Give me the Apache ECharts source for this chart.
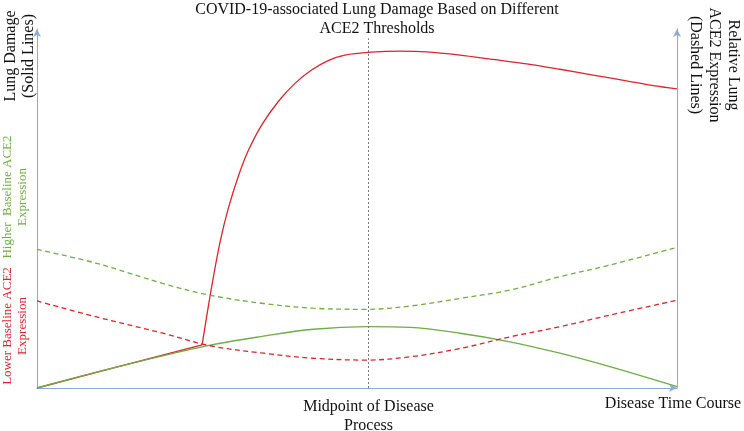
<!DOCTYPE html>
<html><head><meta charset="utf-8">
<script src="https://cdn.jsdelivr.net/npm/echarts@6/dist/echarts.min.js"></script>
<style>html,body{margin:0;padding:0;background:#fff}#c{width:744px;height:431px}</style>
</head><body><div id="c"></div>
<script>
// Time course (0-100) vs. relative level (0-100)
const midpoint = 51.8;
const midpointLineTop = 96.4;
// Lower baseline ACE2: damage follows the common path, then jumps after the threshold
const lowerDamageEarly = [[0,0],[13,6],[25.8,11.9]];
const lowerDamageLate = [[25.8,11.9],[27.2,27.0],[28.6,40.2],[29.9,49.6],[31.5,58.6],[33.0,65.4],[35.1,72.5],[37.7,79.0],[40.3,84.0],[42.9,87.7],[45.5,90.3],[48.1,91.8],[52.2,92.6],[56.7,92.9],[60.9,92.7],[66.1,91.8],[71.3,90.6],[76.5,89.4],[81.7,87.9],[86.9,86.3],[92.1,84.7],[96.3,83.4],[100,82.5]];
const higherDamage = [[0,0],[13,6],[26.5,11.6],[35.4,14.3],[43.2,16.2],[51.5,16.9],[58.3,16.7],[66.1,15.1],[73.9,12.75],[81.7,9.6],[89.5,5.9],[100,0.4]];
const higherACE2 = [[0,38.2],[9.3,34.4],[19.7,28.8],[27,25.6],[35.4,23.3],[43.2,22.0],[51.5,21.7],[58.3,22.6],[66.1,24.7],[73.9,27.0],[81.7,30.7],[89.5,33.9],[100,38.8]];
const lowerACE2 = [[0,24.0],[9.3,19.6],[19.7,15.1],[27,11.65],[35.4,9.6],[43.2,8.2],[51.5,7.7],[58.3,8.6],[66.1,10.9],[73.9,14.1],[81.7,16.9],[89.5,20.1],[100,24.2]];
const titleText = 'COVID-19-associated Lung Damage Based on Different\nACE2 Thresholds';
const midpointLabel = 'Midpoint of Disease\nProcess';
const xName = 'Disease Time Course';
const leftName = 'Lung Damage\n(Solid Lines)';
const rightName = 'Relative Lung\nACE2 Expression\n(Dashed Lines)';
const higherName = 'Higher  Baseline ACE2\nExpression';
const lowerName = 'Lower Baseline ACE2\nExpression';

const RED = '#D9262B', GREEN = '#70AD47', AXIS = '#8EAADB', FONT = 'Liberation Serif';
const chart = echarts.init(document.getElementById('c'));
const axisLine = {show:true, symbol:['none','arrow'], symbolSize:[6,8], lineStyle:{color:AXIS, width:1}};
chart.setOption({
  animation:false,
  grid:{left:37, right:67, top:29, bottom:43},
  xAxis:{type:'value', min:0, max:100, axisLine:axisLine, axisTick:{show:false}, axisLabel:{show:false}, splitLine:{show:false}},
  yAxis:[
    {type:'value', min:0, max:99, axisLine:axisLine, axisTick:{show:false}, axisLabel:{show:false}, splitLine:{show:false}},
    {type:'value', min:0, max:99, position:'right', axisLine:axisLine, axisTick:{show:false}, axisLabel:{show:false}, splitLine:{show:false}}
  ],
  series:[
    {type:'line', data:lowerDamageEarly, smooth:false, symbol:'none', lineStyle:{color:RED, width:1.3},
      markLine:{silent:true, symbol:'none', lineStyle:{color:'#777', type:[2,2], width:1},
        label:{show:true, position:'start', formatter:midpointLabel, fontFamily:FONT, fontSize:16, color:'#111', lineHeight:19, distance:9},
        data:[[{coord:[midpoint,0]},{coord:[midpoint,midpointLineTop]}]]}},
    {type:'line', data:lowerDamageLate, smooth:0.3, symbol:'none', lineStyle:{color:RED, width:1.3}},
    {type:'line', data:higherDamage, smooth:0.35, symbol:'none', lineStyle:{color:GREEN, width:1.3}},
    {type:'line', data:higherACE2, smooth:0.35, symbol:'none', lineStyle:{color:GREEN, width:1.3, type:[5,3.5]}},
    {type:'line', data:lowerACE2, smooth:0.35, symbol:'none', lineStyle:{color:RED, width:1.3, type:[5,3.5]}}
  ],
  graphic:[
    {type:'text', x:377, y:0, style:{text:titleText, font:'16px '+FONT, fill:'#111', align:'center', verticalAlign:'top', lineHeight:19}},
    {type:'text', x:20, y:56, rotation:Math.PI/2, style:{text:leftName, font:'16px '+FONT, fill:'#111', align:'center', verticalAlign:'middle', lineHeight:18}},
    {type:'text', x:714, y:65, rotation:-Math.PI/2, style:{text:rightName, font:'16px '+FONT, fill:'#111', align:'center', verticalAlign:'middle', lineHeight:19}},
    {type:'text', x:15, y:197, rotation:Math.PI/2, style:{text:higherName, font:'13px '+FONT, fill:GREEN, align:'center', verticalAlign:'middle', lineHeight:15}},
    {type:'text', x:15, y:326, rotation:Math.PI/2, style:{text:lowerName, font:'13px '+FONT, fill:RED, align:'center', verticalAlign:'middle', lineHeight:15}},
    {type:'text', x:673, y:404, style:{text:xName, font:'16px '+FONT, fill:'#111', align:'center', verticalAlign:'middle'}}
  ]
});
</script></body></html>
